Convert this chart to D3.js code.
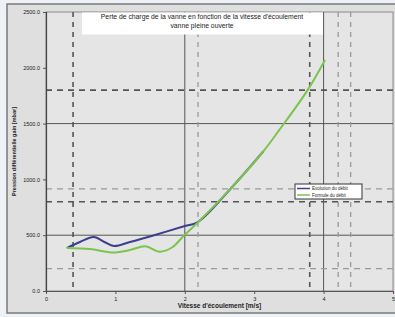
<!DOCTYPE html>
<html lang="fr">
<head>
    <meta charset="UTF-8">
    <title>Perte de charge de la vanne</title>
    <script src="https://d3js.org/d3.v7.min.js"></script>
    <style>
        body { margin: 0; background: #eef2f6; }
        text { font-family: "Liberation Sans", Arial, sans-serif; fill: #222; }
        .tick text { font-size: 5.5px; }
    </style>
</head>
<body>
    <svg id="chart" width="395" height="317"></svg>
    <script>
        // courbe mesurée (bleu) : vitesse [m/s], pression [mbar]
        let vitesse_mesure = [0.30, 0.49, 0.69, 0.84, 0.98, 1.21, 1.57, 2.00, 2.18, 2.65, 3.13];
        let pression_mesure = [385, 439, 484, 439, 403, 439, 502, 582, 615, 910, 1250];

        // courbe théorique (vert)
        let vitesse_formule = [0.30, 0.63, 0.97, 1.21, 1.43, 1.64, 1.82, 2.00, 2.18, 2.65, 3.13, 3.37, 3.77, 4.02];
        let pression_formule = [385, 376, 345, 367, 400, 352, 392, 505, 609, 910, 1250, 1450, 1800, 2070];

        let xTicks = [0, 1, 2, 3, 4, 5];
        let yTicks = [0, 500, 1000, 1500, 2000, 2500];

        // lignes de repère
        let gridX = [2, 4];
        let gridY = [500, 1500];
        let dashX_dark = [0.39, 3.80];
        let dashX_light = [2.19, 4.21, 4.39];
        let dashY_dark = [800, 1800];
        let dashY_light = [200, 915];

        let titre = ["Perte de charge de la vanne en fonction de la vitesse d'écoulement",
                     "vanne pleine ouverte"];
        let legende = ["Evolution du débit", "Formule du débit"];
        let couleurs = ["#3b3f8c", "#7cc44e"];

        let svg = d3.select("#chart");

        // cadre extérieur
        svg.append("rect")
            .attr("x", 7).attr("y", 4)
            .attr("width", 400).attr("height", 309)
            .attr("fill", "#dfdfdf")
            .attr("stroke", "#7a7a7a")
            .attr("stroke-width", 1.5);

        let pLeft = 46, pTop = 12, pRight = 393, pBottom = 291;

        let x = d3.scaleLinear().domain([0, 5]).range([pLeft, pRight]);
        let y = d3.scaleLinear().domain([0, 2500]).range([pBottom, pTop]);

        // zone de tracé
        svg.append("rect")
            .attr("x", pLeft).attr("y", pTop)
            .attr("width", pRight - pLeft).attr("height", pBottom - pTop)
            .attr("fill", "#e5e5e5")
            .attr("stroke", "#8a8a8a");

        let g = svg.append("g");

        // lignes pleines
        g.append("g").selectAll("line").data(gridX).join("line")
            .attr("x1", d => x(d)).attr("x2", d => x(d))
            .attr("y1", pTop).attr("y2", pBottom)
            .attr("stroke", "#555").attr("stroke-width", 1);
        g.append("g").selectAll("line").data(gridY).join("line")
            .attr("y1", d => y(d)).attr("y2", d => y(d))
            .attr("x1", pLeft).attr("x2", pRight)
            .attr("stroke", "#555").attr("stroke-width", 1);

        // pointillés
        function vlines(data, color, width) {
            g.append("g").selectAll("line").data(data).join("line")
                .attr("x1", d => x(d)).attr("x2", d => x(d))
                .attr("y1", pTop).attr("y2", pBottom)
                .attr("stroke", color).attr("stroke-width", width)
                .attr("stroke-dasharray", "5,5");
        }
        function hlines(data, color, width) {
            g.append("g").selectAll("line").data(data).join("line")
                .attr("y1", d => y(d)).attr("y2", d => y(d))
                .attr("x1", pLeft).attr("x2", pRight)
                .attr("stroke", color).attr("stroke-width", width)
                .attr("stroke-dasharray", "6,5");
        }
        vlines(dashX_light, "#9a9a9a", 1.3);
        hlines(dashY_light, "#9a9a9a", 1.3);
        vlines(dashX_dark, "#555", 1.6);
        hlines(dashY_dark, "#555", 1.6);

        // axes
        svg.append("g")
            .attr("transform", `translate(0,${pBottom})`)
            .call(d3.axisBottom(x).tickValues(xTicks).tickSize(3).tickFormat(d3.format("d")))
            .call(a => a.select(".domain").attr("stroke", "#555"))
            .call(a => a.selectAll(".tick line").attr("stroke", "#555"));
        svg.append("g")
            .attr("transform", `translate(${pLeft},0)`)
            .call(d3.axisLeft(y).tickValues(yTicks).tickSize(3).tickFormat(d3.format(".1f")))
            .call(a => a.select(".domain").attr("stroke", "#444").attr("stroke-width", 1.2))
            .call(a => a.selectAll(".tick line").attr("stroke", "#555"));

        // courbes
        let line = d3.line().curve(d3.curveCatmullRom.alpha(0.5));
        let series = [
            d3.zip(vitesse_mesure, pression_mesure),
            d3.zip(vitesse_formule, pression_formule)
        ];
        svg.append("g").selectAll("path").data(series).join("path")
            .attr("d", d => line(d.map(p => [x(p[0]), y(p[1])])))
            .attr("fill", "none")
            .attr("stroke", (d, i) => couleurs[i])
            .attr("stroke-width", 2);

        // titre
        svg.append("rect")
            .attr("x", 82).attr("y", pTop + 0.5)
            .attr("width", 241).attr("height", 22)
            .attr("fill", "#fff");
        svg.append("g").selectAll("text").data(titre).join("text")
            .attr("x", 202).attr("y", (d, i) => 19 + i * 8.5)
            .attr("text-anchor", "middle")
            .attr("font-size", "6.8px")
            .text(d => d);

        // légende
        let lg = svg.append("g").attr("transform", "translate(295,184)");
        lg.append("rect")
            .attr("width", 67).attr("height", 15)
            .attr("fill", "#fff").attr("stroke", "#333").attr("stroke-width", 1);
        lg.selectAll("line").data(legende).join("line")
            .attr("x1", 2).attr("x2", 15)
            .attr("y1", (d, i) => 4.5 + i * 6.5).attr("y2", (d, i) => 4.5 + i * 6.5)
            .attr("stroke", (d, i) => couleurs[i]).attr("stroke-width", 1.5);
        lg.selectAll("text").data(legende).join("text")
            .attr("x", 17).attr("y", (d, i) => 6 + i * 6.5)
            .attr("font-size", "4.5px")
            .text(d => d);

        // titres des axes
        svg.append("text")
            .attr("x", (pLeft + pRight) / 2).attr("y", 308)
            .attr("text-anchor", "middle")
            .attr("font-size", "6.5px").attr("font-weight", "bold")
            .text("Vitesse d'écoulement [m/s]");
        svg.append("text")
            .attr("transform", `translate(16,${(pTop + pBottom) / 2}) rotate(-90)`)
            .attr("text-anchor", "middle")
            .attr("font-size", "5.5px").attr("font-weight", "bold")
            .text("Pression différentielle gain [mbar]");
    </script>
</body>
</html>
